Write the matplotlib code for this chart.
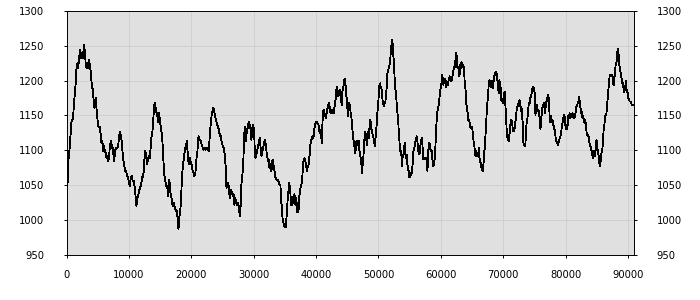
import matplotlib
matplotlib.use("Agg")
import matplotlib.pyplot as plt

# values
xs = [0, 100, 260, 420, 640, 800, 1060, 1170, 1330, 1490, 1600, 1760, 1860, 2020, 2130, 2290,
      2400, 2560, 2660, 2820, 2980, 3090, 3200, 3360, 3470, 3630, 3730, 3890, 4000, 4160, 4270,
      4370, 4480, 4590, 4690, 4800, 4910, 5070, 5330, 5490, 5600, 5760, 5870, 6030, 6140, 6300,
      6400, 6560, 6670, 6830, 6940, 7100, 7200, 7310, 7470, 7630, 7790, 7900, 8110, 8270, 8430,
      8540, 8700, 8860, 8970, 9070, 9230, 9390, 9550, 9710, 9870, 10030, 10140, 10300, 10460,
      10620, 10780, 10940, 11100, 11210, 11320, 11480, 11640, 11800, 11960, 12120, 12280, 12440,
      12540, 12700, 12810, 12920, 13080, 13240, 13340, 13450, 13610, 13770, 13930, 14040, 14200,
      14360, 14520, 14680, 14840,
      14960, 15120, 15220, 15330, 15490, 15650, 15760, 15920, 16080, 16180, 16290, 16400, 16500,
      16610, 16720, 16830, 16990, 17090, 17200, 17360, 17520, 17630, 17730, 17840, 17950, 18050,
      18160, 18320, 18430, 18530, 18690, 18850, 18960, 19120, 19280, 19390, 19500, 19600, 19760,
      19920, 20030, 20190, 20350, 20510, 20670, 20780, 20880, 20990, 21100, 21200, 21360, 21520,
      21680, 21850, 22000, 22170, 22330, 22490, 22650, 22810, 22970, 23130, 23290, 23450, 23550,
      23660, 23770, 23930, 24090, 24250, 24410, 24570, 24730, 24890, 25050, 25210, 25370, 25530,
      25640, 25800, 25960, 26060, 26220, 26380, 26540, 26700, 26810, 26920, 27020, 27180, 27350,
      27510, 27670, 27770, 27880, 28040, 28200, 28360, 28470, 28570, 28680, 28790, 28890, 29000,
      29110, 29210, 29320, 29430, 29540, 29640, 29750,
      29920, 30080, 30180, 30290, 30400, 30560, 30720, 30880, 30990, 31090, 31250, 31410, 31520,
      31680, 31790, 31950, 32050, 32210, 32320, 32430, 32530, 32640, 32750, 32850, 32960, 33120,
      33230, 33340, 33500, 33660, 33820, 33980, 34140, 34300, 34400, 34510, 34620, 34720, 34830,
      34990, 35150, 35260, 35360, 35470, 35580, 35680, 35790, 35900, 36000, 36110, 36220, 36380,
      36540, 36700, 36810, 36910, 37020, 37180, 37290, 37390, 37550, 37660, 37770, 37870, 37980,
      38140, 38300, 38460, 38570, 38680, 38780, 38890, 39000, 39100, 39260, 39420, 39580, 39740,
      39900, 40060, 40220, 40380, 40490, 40600, 40700, 40810, 40920, 41020, 41130, 41240, 41350,
      41510, 41610, 41720, 41880, 42040, 42150, 42250, 42410, 42570, 42730, 42840, 43000, 43160,
      43270, 43370, 43480, 43590, 43690, 43800, 43910, 44020, 44120, 44230, 44340, 44440, 44550,
      44660, 44760, 44870, 44980, 45080, 45190,
      45310, 45410, 45520, 45680, 45790, 45950, 46110, 46270, 46370, 46480, 46640, 46750, 46860,
      46960, 47070, 47180, 47280, 47390, 47500, 47600, 47710, 47820, 47920, 48030, 48140, 48240,
      48350, 48460, 48560, 48670, 48780, 48880, 48990, 49100, 49200, 49310, 49420, 49530, 49630,
      49740, 49850, 49950, 50060, 50170, 50270, 50380, 50490, 50590, 50700, 50810, 50910, 51020,
      51130, 51230, 51340, 51450, 51550, 51660, 51770, 51870, 51980, 52090, 52200, 52300, 52410,
      52520, 52620, 52730, 52840, 52940, 53050, 53160, 53260, 53370, 53480, 53580, 53690, 53800,
      53900, 54010, 54120, 54220, 54330, 54440, 54540, 54650, 54760, 54870, 54970, 55080, 55190,
      55290, 55400, 55510, 55610, 55720, 55830, 55930, 56040, 56150, 56250, 56360, 56470, 56570,
      56680, 56790, 56890, 57000, 57110, 57210, 57320, 57430, 57540, 57640, 57750, 57860, 57960,
      58070, 58180, 58280, 58390, 58500, 58600, 58710, 58820, 58920, 59030, 59140, 59240, 59350,
      59460, 59560, 59670, 59780, 59880, 59990, 60100, 60210, 60310, 60420, 60530,
      60640, 60800, 60960, 61120, 61280, 61440, 61600, 61760, 61920, 62080, 62240, 62350, 62460,
      62560, 62670, 62780, 62880, 62990, 63100, 63200, 63310, 63470, 63630, 63740, 63850, 64010,
      64110, 64270, 64380, 64540, 64650, 64750, 64910, 65070, 65180, 65340, 65450, 65550, 65660,
      65770, 65870, 65980, 66090, 66200, 66300, 66410, 66520, 66620, 66730, 66840, 66940, 67050,
      67160, 67260, 67370, 67480, 67580, 67690, 67800, 67900, 68010, 68120, 68220, 68330, 68440,
      68540, 68650, 68760, 68870, 68970, 69080, 69190, 69290, 69400, 69510, 69610, 69720, 69830,
      69930, 70040, 70150, 70250, 70360, 70470, 70570, 70680, 70790, 70890, 71000, 71110, 71210,
      71320, 71430, 71540, 71640, 71750, 71860, 71960, 72070, 72180, 72280, 72390, 72500, 72600,
      72710, 72820, 72920, 73030, 73140, 73240, 73350, 73460, 73560, 73670, 73780, 73880, 73990,
      74100, 74210, 74310, 74420, 74530, 74630, 74740, 74850, 74950, 75060, 75170, 75270, 75380,
      75490, 75590, 75700,
      75870, 75980, 76080, 76190, 76300, 76400, 76510, 76620, 76720, 76830, 76940, 77050, 77150,
      77260, 77370, 77470, 77580, 77690, 77790, 77900, 78010, 78110, 78220, 78330, 78430, 78540,
      78650, 78750, 78860, 78970, 79070, 79180, 79290, 79390, 79500, 79610, 79720, 79820, 79930,
      80040, 80140, 80250, 80360, 80460, 80570, 80680, 80780, 80890, 81000, 81100, 81210, 81320,
      81420, 81530, 81640, 81740, 81850, 81960, 82060, 82170, 82280, 82390, 82490, 82600, 82710,
      82820, 82920, 83030, 83130, 83240, 83350, 83450, 83560, 83670, 83770, 83880, 83990, 84090,
      84200, 84310, 84410, 84520, 84630, 84730, 84840, 84950, 85060, 85160, 85270, 85380, 85480,
      85590, 85700, 85800, 85910, 86020, 86120, 86230, 86340, 86440, 86550, 86660, 86760, 86870,
      86980, 87080, 87190, 87300, 87400, 87510, 87620, 87730, 87830, 87940, 88050, 88150, 88260,
      88370, 88470, 88580, 88690, 88790, 88900, 89010, 89110, 89220, 89330, 89430, 89540, 89650,
      89750, 89860, 89970, 90070, 90180, 90290, 90400, 90500, 90610, 90720, 90820]

ys = [1041, 1027, 1084, 1094, 1122, 1141, 1146, 1165, 1180, 1199, 1218, 1225, 1218, 1230, 1244,
      1237, 1232, 1241, 1232, 1251, 1237, 1222, 1218, 1225, 1218, 1230, 1222, 1213, 1199, 1189,
      1184, 1165, 1161, 1170, 1175, 1161, 1151, 1134, 1134, 1122, 1111, 1113, 1099, 1106, 1099,
      1096, 1089, 1092, 1084, 1089, 1106, 1113, 1103, 1108, 1099, 1084, 1099, 1103, 1103, 1106,
      1118, 1127, 1122, 1113, 1099, 1089, 1080, 1070, 1070, 1063, 1061, 1053, 1049, 1061, 1063,
      1056, 1056, 1046, 1032, 1020, 1030, 1034, 1042, 1046, 1051, 1061, 1063, 1075, 1099, 1096,
      1089, 1080, 1089, 1092, 1089, 1099, 1118, 1127, 1146, 1165, 1168, 1156, 1153, 1141, 1153,
      1144, 1132, 1127, 1120, 1094, 1065, 1061, 1051, 1046, 1049, 1034, 1051, 1058, 1042, 1037,
      1032, 1022, 1020, 1025, 1018, 1013, 1015, 1009, 999, 987, 1003, 1008, 1022, 1046, 1065,
      1080, 1092, 1099, 1106, 1113, 1099, 1087, 1080, 1089, 1084, 1080, 1072, 1068, 1063, 1068,
      1080, 1094, 1099, 1118, 1120, 1115, 1113, 1108, 1103, 1101, 1103, 1101, 1103, 1103, 1099,
      1122, 1139, 1153, 1156, 1161, 1158, 1151, 1144, 1139, 1134, 1130, 1122, 1120, 1111, 1106,
      1103, 1094, 1075, 1046, 1053, 1053, 1039, 1032, 1044, 1039, 1034, 1037, 1022, 1032, 1027,
      1022, 1025, 1015, 1006, 1013, 1051, 1065, 1089, 1118, 1132, 1134, 1113, 1127, 1132, 1137,
      1141, 1132, 1137, 1130, 1115, 1127,
      1137, 1127, 1099, 1089, 1092, 1099, 1106, 1113, 1118, 1106, 1092, 1099, 1103, 1111, 1115,
      1108, 1099, 1089, 1084, 1087, 1075, 1080, 1072, 1070, 1084, 1087, 1075, 1070, 1061, 1058,
      1058, 1056, 1051, 1049, 1025, 1022, 1003, 999, 994, 990, 990, 1003, 1018, 1032, 1042, 1053,
      1049, 1037, 1022, 1027, 1022, 1034, 1037, 1022, 1032, 1022, 1011, 1011, 1034, 1037, 1049,
      1051, 1058, 1072, 1084, 1089, 1084, 1075, 1070, 1077, 1077, 1089, 1094, 1108, 1115, 1120,
      1118, 1132, 1139, 1141, 1139, 1137, 1130, 1125, 1130, 1122, 1111, 1137, 1156, 1158, 1153,
      1149, 1146, 1156, 1161, 1168, 1165, 1156, 1153, 1158, 1153, 1153, 1165, 1175, 1187, 1191,
      1184, 1177, 1184, 1187, 1180, 1172, 1165, 1184, 1189, 1194, 1201, 1203, 1189, 1177, 1172,
      1149, 1165,
      1168, 1165, 1156, 1146, 1134, 1118, 1108, 1096, 1101, 1113, 1113, 1108, 1113, 1099, 1094,
      1087, 1080, 1068, 1084, 1092, 1108, 1127, 1125, 1118, 1108, 1120, 1127, 1118, 1132, 1144,
      1139, 1130, 1127, 1120, 1118, 1113, 1106, 1118, 1130, 1139, 1156, 1165, 1180, 1194, 1196,
      1189, 1189, 1177, 1170, 1165, 1163, 1168, 1170, 1182, 1191, 1211, 1215, 1218, 1222, 1227,
      1241, 1251, 1258, 1251, 1234, 1220, 1199, 1187, 1180, 1165, 1153, 1144, 1127, 1113, 1099,
      1099, 1092, 1077, 1094, 1092, 1103, 1111, 1096, 1089, 1094, 1080, 1072, 1070, 1061, 1063,
      1068, 1065, 1072, 1084, 1099, 1101, 1108, 1113, 1118, 1120, 1113, 1099, 1103, 1094, 1103,
      1111, 1115, 1118, 1099, 1087, 1087, 1089, 1087, 1089, 1087, 1070, 1094, 1108, 1111, 1103,
      1099, 1101, 1094, 1080, 1077, 1084, 1087, 1106, 1127, 1146, 1156, 1161, 1165, 1175, 1184,
      1191, 1196, 1208, 1203, 1194, 1199,
      1203, 1191, 1199, 1194, 1201, 1206, 1199, 1201, 1208, 1218, 1220, 1230, 1239, 1234, 1218,
      1220, 1213, 1206, 1222, 1218, 1227, 1220, 1222, 1213, 1194, 1184, 1165, 1156, 1144, 1144,
      1137, 1132, 1134, 1130, 1118, 1108, 1101, 1092, 1099, 1092, 1096, 1092, 1103, 1089, 1084,
      1082, 1075, 1072, 1070, 1080, 1096, 1103, 1122, 1141, 1156, 1170, 1180, 1196, 1201, 1199,
      1191, 1194, 1199, 1189, 1196, 1206, 1208, 1211, 1213, 1208, 1199, 1189, 1182, 1201, 1191,
      1189, 1170, 1172, 1168, 1175, 1182, 1184, 1163, 1146, 1127, 1118, 1115, 1113, 1122, 1132,
      1141, 1144, 1139, 1130, 1127, 1130, 1132, 1141, 1149, 1161, 1163, 1165, 1168, 1172, 1170,
      1156, 1163, 1151, 1137, 1111, 1108, 1106, 1108, 1130, 1141, 1146, 1156, 1168, 1165, 1175,
      1177, 1180, 1187, 1189, 1191, 1187, 1182, 1151, 1161, 1165, 1156, 1158, 1156,
      1144, 1130, 1146, 1151, 1163, 1165, 1168, 1161, 1153, 1165, 1170, 1172, 1180, 1177, 1165,
      1141, 1144, 1149, 1141, 1144, 1137, 1134, 1130, 1125, 1115, 1113, 1111, 1108, 1111, 1113,
      1118, 1120, 1125, 1134, 1139, 1144, 1151, 1151, 1139, 1130, 1137, 1130, 1139, 1151, 1151,
      1153, 1146, 1151, 1151, 1153, 1149, 1146, 1146, 1151, 1156, 1163, 1165, 1168, 1170, 1177,
      1168, 1161, 1153, 1156, 1146, 1149, 1144, 1139, 1144, 1139, 1127, 1122, 1122, 1120, 1115,
      1108, 1106, 1101, 1099, 1092, 1089, 1099, 1096, 1092, 1103, 1115, 1106, 1099, 1094, 1084,
      1077, 1082, 1092, 1099, 1103, 1118, 1132, 1137, 1149, 1151, 1153, 1165, 1175, 1189, 1199,
      1208, 1208, 1206, 1206, 1208, 1196, 1194, 1203, 1213, 1225, 1225, 1237, 1246, 1241, 1225,
      1218, 1213, 1208, 1201, 1196, 1196, 1184, 1189, 1187, 1199, 1189, 1184, 1182, 1175, 1172,
      1170, 1170, 1168, 1165, 1165, 1165]

x_ticks = [0, 10000, 20000, 30000, 40000, 50000, 60000, 70000, 80000, 90000]
y_ticks = [950, 1000, 1050, 1100, 1150, 1200, 1250, 1300]

fig = plt.figure(figsize=(7, 3), dpi=100)
ax = fig.add_axes([0.095, 0.15, 0.811, 0.814])
ax.set_facecolor("#e0e0e0")
ax.plot(xs, ys, color="black", lw=0.6, antialiased=False)

ax.set_xlim(0, 91000)
ax.set_ylim(950, 1300)
ax.set_xticks(x_ticks)
ax.set_yticks(y_ticks)
ax.grid(True, color="#d0d0d0", lw=0.6, antialiased=False)
ax.set_axisbelow(True)

ax.tick_params(axis="y", which="both", left=True, right=True,
               labelleft=True, labelright=True, direction="out",
               length=2.2, pad=13.8, labelsize=7.2, color="black", width=0.7)
ax.tick_params(axis="x", direction="out", length=2.2, pad=8.5, labelsize=7.2, width=0.7)
for s in ax.spines.values():
    s.set_color("black")
    s.set_linewidth(0.7)

fig.savefig("out.png")
